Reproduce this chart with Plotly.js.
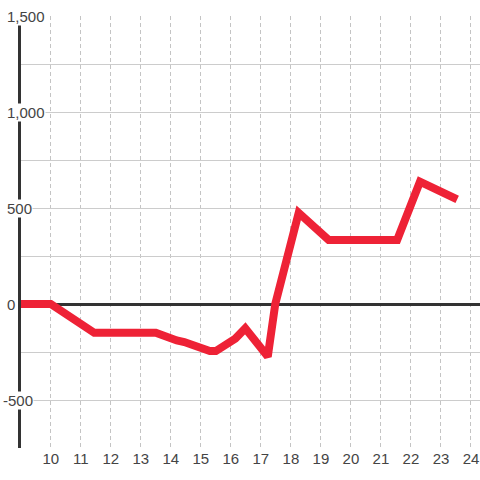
<!DOCTYPE html>
<html>
<head>
<meta charset="utf-8">
<script src="https://cdn.plot.ly/plotly-3.0.1.min.js"></script>
<style>
html,body{margin:0;padding:0;background:#fff;}
#chart{width:480px;height:480px;}
</style>
</head>
<body>
<div id="chart"></div>
<script>
// Data
const xValues = [9, 10, 11.45, 13.5, 14.2, 14.45, 15.3, 15.5, 16.15, 16.48, 17.23, 17.48, 18.26, 19.26, 21.54, 22.3, 23.54];
const yValues = [0, 0, -150, -150, -190, -198, -245, -245, -180, -127, -274, 0, 475, 333, 333, 637, 545];
const xTickStart = 10;
const xTickStep = 1;
const yLabelVals = [1500, 1000, 500, 0, -500];
const yLabelText = ['1,500', '1,000', '500', '0', '-500'];

const W = 480, H = 480;
const margin = {l: 21, r: 0, t: 16, b: 32, pad: 0};
const plotW = W - margin.l - margin.r;
const font = '"Liberation Sans", Arial, sans-serif';

const annotations = yLabelVals.map((v, i) => {
  const txt = yLabelText[i];
  const leftPx = txt.startsWith('-') ? 2 : 6;
  return {
    xref: 'paper', yref: 'y',
    x: (leftPx - margin.l) / plotW, y: v,
    xanchor: 'left', yanchor: 'middle',
    text: txt, showarrow: false,
    bgcolor: '#ffffff', borderpad: 0,
    font: {family: font, size: 15, color: '#444'}
  };
});

const trace = {
  type: 'scatter', mode: 'lines',
  x: xValues, y: yValues,
  line: {color: '#ee2236', width: 8},
  hoverinfo: 'skip'
};

const layout = {
  width: W, height: H,
  margin: margin,
  paper_bgcolor: '#ffffff', plot_bgcolor: '#ffffff',
  showlegend: false,
  font: {family: font, size: 15, color: '#444'},
  xaxis: {
    range: [9.01, 24.3],
    tickmode: 'linear', tick0: xTickStart, dtick: xTickStep,
    showgrid: true, gridcolor: '#c4c4c4', gridwidth: 1, griddash: '4px,3px',
    zeroline: false, showline: false, ticks: '',
    tickfont: {family: font, size: 15, color: '#444'}
  },
  yaxis: {
    range: [-750, 1500],
    tick0: 0, dtick: 250,
    showticklabels: false,
    showgrid: true, gridcolor: '#cccccc', gridwidth: 1,
    zeroline: true, zerolinecolor: '#333333', zerolinewidth: 3,
    showline: true, linecolor: '#333333', linewidth: 3,
    layer: 'below traces', ticks: ''
  },
  annotations: annotations
};

Plotly.newPlot('chart', [trace], layout, {displayModeBar: false, staticPlot: true});
</script>
</body>
</html>
